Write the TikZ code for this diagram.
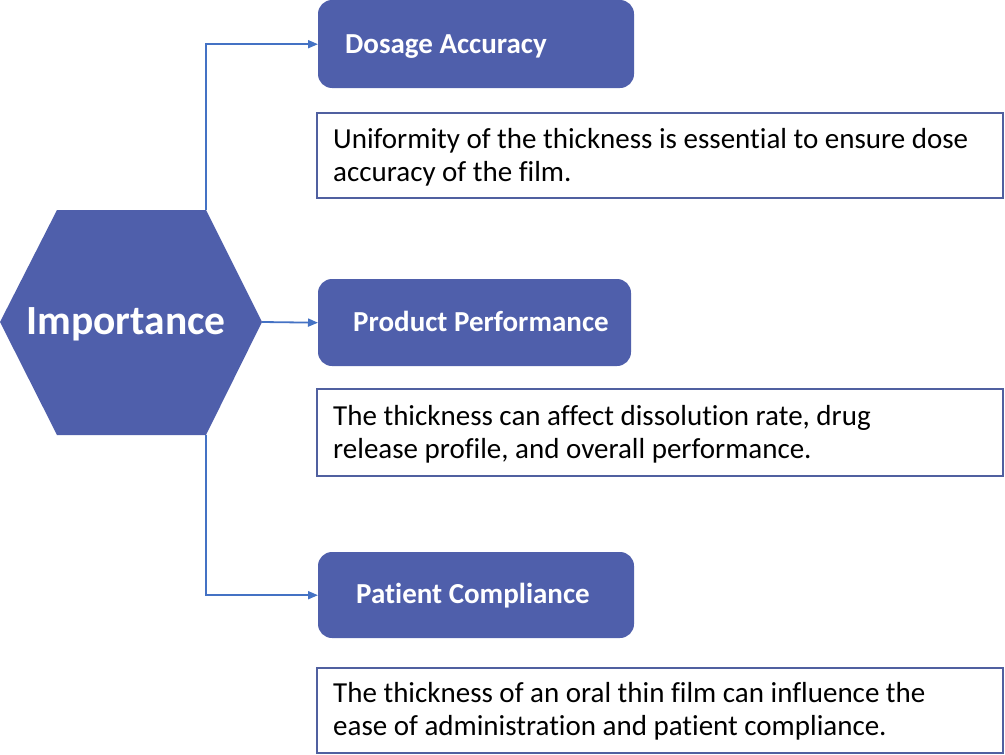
\documentclass[tikz,border=0pt]{standalone}
\usepackage{fontspec}
\setmainfont{Carlito}[Ligatures=NoCommon]
\usetikzlibrary{arrows.meta}
\definecolor{boxblue}{RGB}{79,95,171}
\definecolor{linkblue}{RGB}{68,114,196}
\definecolor{descborder}{RGB}{80,96,160}
\tikzset{
  headbox/.style={fill=boxblue, draw=none, rounded corners=14pt},
  headtext/.style={text=white, font=\fontsize{29}{34}\selectfont\bfseries, anchor=base west, inner sep=0pt},
  descbox/.style={draw=descborder, line width=1.6pt, fill=white},
  desctext/.style={text=black, font=\fontsize{29}{33}\selectfont, anchor=base west, inner sep=0pt},
  link/.style={draw=linkblue, line width=1.8pt, -{Triangle[length=10pt,width=8pt]}},
}
\begin{document}
\begin{tikzpicture}[x=1pt,y=-1pt]
\useasboundingbox (0,0) rectangle (1005,755);
% hexagon
\fill[boxblue] (0,322) -- (57,210) -- (206,210) -- (262,322) -- (206,435) -- (57,435) -- cycle;
\node[text=white, font=\fontsize{41.5}{48}\selectfont\bfseries, inner sep=0pt, anchor=base] (imp) at (126,334) {Importance};
\coordinate (hexT) at (206,210);
\coordinate (hexR) at (262,322);
\coordinate (hexB) at (206,435);
% head boxes
\path[headbox] (318,0) rectangle (634,88);
\node[inner sep=0pt, minimum width=316pt, minimum height=88pt, anchor=north west] (b1) at (318,0) {};
\node[headtext] (t1) at (345,53) {Dosage Accuracy};
\path[headbox] (318,279) rectangle (631,366);
\node[inner sep=0pt, minimum width=313pt, minimum height=87pt, anchor=north west] (b2) at (318,279) {};
\node[headtext] (t2) at (353,331) {Product Performance};
\path[headbox] (318,552) rectangle (634,638);
\node[inner sep=0pt, minimum width=316pt, minimum height=86pt, anchor=north west] (b3) at (318,552) {};
\node[headtext] (t3) at (356,603) {Patient Compliance};
% description boxes
\draw[descbox] (317,113) rectangle (1003,198);
\node[desctext] (d1a) at (333,148) {Uniformity of the thickness is essential to ensure dose};
\node[desctext] (d1b) at (333,181) {accuracy of the film.};
\draw[descbox] (317,389) rectangle (1003,476);
\node[desctext] (d2a) at (333,425) {The thickness can affect dissolution rate, drug};
\node[desctext] (d2b) at (333,458) {release profile, and overall performance.};
\draw[descbox] (317,668) rectangle (1003,753);
\node[desctext] (d3a) at (333,702) {The thickness of an oral thin film can influence the};
\node[desctext] (d3b) at (333,735) {ease of administration and patient compliance.};
% connectors
\draw[link] (hexT) |- (b1.west);
\draw[link] (hexR) -- (b2.west);
\draw[link] (hexB) |- (b3.west);
\end{tikzpicture}
\end{document}
